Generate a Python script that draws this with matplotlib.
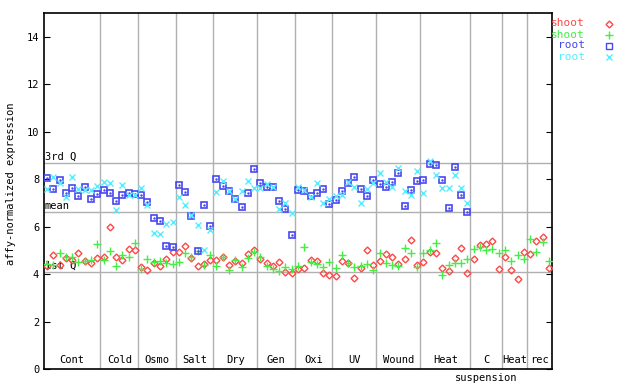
import matplotlib
matplotlib.use("Agg")
import matplotlib.pyplot as plt
import matplotlib.transforms as mtransforms
import numpy as np

# experiment groups and number of samples in each
groups = ["Cont", "Cold", "Osmo", "Salt", "Dry", "Gen", "Oxi", "UV", "Wound", "Heat",
          "C\nsuspension", "Heat", "rec"]
group_sizes = [9, 6, 6, 6, 7, 6, 6, 7, 7, 8, 5, 4, 4]

shoot_a = [4.32, 4.80, 4.40, 4.67, 4.60, 4.88, 4.54, 4.46, 4.68, 4.71, 5.98, 4.73, 4.60, 5.06,
           5.02, 4.29, 4.18, 4.46, 4.32, 4.65, 4.95, 4.92, 5.19, 4.68, 4.32, 4.41, 4.58, 4.60,
           4.71, 4.37, 4.57, 4.46, 4.85, 5.00, 4.65, 4.48, 4.35, 4.51, 4.07, 4.04, 4.23, 4.27,
           4.58, 4.57, 4.04, 3.96, 3.92, 4.55, 4.47, 3.84, 4.26, 5.02, 4.38, 4.55, 4.85, 4.72,
           4.43, 4.64, 5.44, 4.37, 4.52, 4.91, 4.88, 4.25, 4.12, 4.67, 5.09, 4.04, 4.63, 5.23,
           5.26, 5.40, 4.21, 4.71, 4.18, 3.80, 4.92, 4.84, 5.40, 5.55, 4.25]
shoot_b = [4.43, 4.40, 4.88, 4.74, 4.70, 4.51, 4.56, 4.60, 5.27, 4.60, 4.98, 4.32, 4.80, 4.71,
           5.30, 4.21, 4.63, 4.50, 4.53, 4.46, 4.43, 4.49, 4.88, 4.70, 4.99, 4.37, 4.80, 4.32,
           4.71, 4.18, 4.60, 4.29, 4.67, 4.91, 4.71, 4.35, 4.21, 4.11, 4.29, 4.21, 4.35, 5.13,
           4.50, 4.43, 4.29, 4.50, 4.25, 4.80, 4.46, 4.29, 4.32, 4.41, 4.18, 4.88, 4.46, 4.40,
           4.35, 5.09, 4.88, 4.29, 4.88, 5.02, 5.30, 3.96, 4.37, 4.46, 4.46, 4.63, 5.05, 5.13,
           5.02, 5.05, 4.88, 5.02, 4.54, 4.80, 4.63, 5.47, 4.94, 5.36, 4.54]
root_a = [8.05, 7.58, 7.95, 7.41, 7.62, 7.29, 7.67, 7.16, 7.37, 7.54, 7.41, 7.08, 7.33, 7.41,
          7.36, 7.34, 7.03, 6.36, 6.24, 5.18, 5.13, 7.75, 7.46, 6.46, 4.97, 6.91, 6.02, 8.00,
          7.69, 7.48, 7.16, 6.82, 7.41, 8.43, 7.83, 7.66, 7.65, 7.07, 6.74, 5.64, 7.55, 7.52,
          7.30, 7.41, 7.58, 6.95, 7.10, 7.50, 7.83, 8.09, 7.58, 7.30, 7.97, 7.79, 7.66, 7.87,
          8.26, 6.86, 7.55, 7.92, 7.96, 8.62, 8.59, 7.96, 6.78, 8.51, 7.33, 6.61]
root_b = [7.58, 8.11, 7.83, 7.23, 8.09, 7.58, 7.55, 7.55, 7.72, 7.86, 7.83, 6.71, 7.76, 7.34,
          7.34, 7.62, 6.90, 5.75, 5.70, 6.10, 6.19, 7.24, 6.90, 6.50, 6.07, 5.02, 5.86, 7.45,
          7.92, 7.52, 7.16, 7.49, 7.92, 7.61, 7.62, 7.80, 7.65, 6.74, 6.99, 6.57, 7.66, 7.55,
          7.24, 7.83, 6.99, 7.16, 7.30, 7.34, 7.86, 7.66, 6.99, 7.58, 7.83, 8.26, 7.86, 7.66,
          8.48, 7.48, 7.33, 8.34, 7.41, 8.75, 8.19, 7.62, 7.62, 8.19, 7.62, 6.99]

q3, mean, q1 = 8.68, 6.61, 4.08

red, green, blue, cyan = "#ff4848", "#44ee44", "#4848f0", "#55eeff"
grid_col = "#b0b0b0"
font = "DejaVu Sans Mono"

fig = plt.figure(figsize=(6.4, 3.84), dpi=100)
ax = fig.add_axes([44 / 640, 15 / 384, 508 / 640, 356 / 384])

n = sum(group_sizes)
edges = np.cumsum([0] + group_sizes)

for e in edges[1:-1]:
    ax.axvline(e, color=grid_col, lw=1, zorder=1)
for v in (q3, mean, q1):
    ax.axhline(v, color=grid_col, lw=1, zorder=1)

xs = np.arange(n) + 0.5
xr = np.arange(len(root_a)) + 0.5
ax.plot(xs, shoot_a, ls="none", marker="D", ms=3.5, mfc="none", mec=red, mew=1, zorder=3)
ax.plot(xs, shoot_b, ls="none", marker="+", ms=6, mec=green, mew=1, zorder=3)
ax.plot(xr, root_a, ls="none", marker="s", ms=5, mfc="none", mec=blue, mew=1.2, zorder=3)
ax.plot(xr, root_a, ls="none", marker=".", ms=1.5, color=blue, zorder=3)
ax.plot(xr, root_b, ls="none", marker="x", ms=5, mec=cyan, mew=1, zorder=3)

ax.set_xlim(0, n)
ax.set_ylim(0, 15)
ax.set_xticks([])
ax.set_yticks(range(0, 15, 2))
ax.tick_params(axis="y", direction="in", length=4, right=True, labelsize=7.5)
for lab in ax.get_yticklabels():
    lab.set_fontfamily(font)
for s in ax.spines.values():
    s.set_linewidth(1.2)

for lab, v in (("3rd Q", q3), ("mean", mean), ("1st Q", q1)):
    ax.text(0.1, v + 0.05, lab, fontsize=7.5, family=font, va="bottom", ha="left", zorder=2)

trans = mtransforms.blended_transform_factory(ax.transData, ax.transAxes)
for i, g in enumerate(groups):
    cx = (edges[i] + edges[i + 1]) / 2
    if "\n" in g:
        top, bottom = g.split("\n")
        ax.text(cx, 0.012, top, transform=trans, ha="center", va="bottom",
                fontsize=7.5, family=font)
        ax.text(cx, -0.012, bottom, transform=trans, ha="center", va="top",
                fontsize=7.5, family=font, clip_on=False)
    else:
        ax.text(cx, 0.012, g, transform=trans, ha="center", va="bottom",
                fontsize=7.5, family=font)

ax.set_ylabel("affy-normalized expression", fontsize=7.5, family=font)
ax.yaxis.set_label_coords(-0.056, 0.52)

# legend outside on the right
leg = [("shoot", red, "D", 3.5), ("shoot", green, "+", 6), ("root", blue, "s", 5), ("root", cyan, "x", 5)]
for k, (name, col, mk, ms) in enumerate(leg):
    y = 1 - (23.5 + k * 11) / 384
    fig.text(585 / 640, y, name, color=col, ha="right", va="center", fontsize=8, family=font)
    fig.lines.append(plt.Line2D([609 / 640], [y], transform=fig.transFigure, ls="none",
                                marker=mk, ms=ms, mfc="none", mec=col, mew=1))

fig.savefig("out.png", dpi=100)
